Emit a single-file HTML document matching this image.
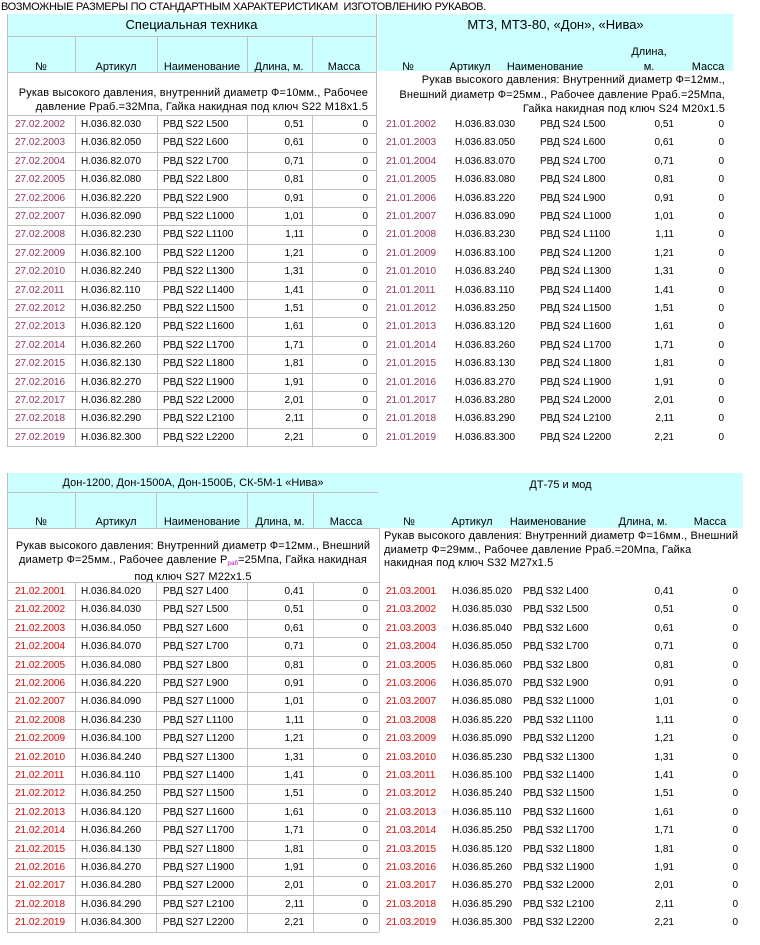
<!DOCTYPE html>
<html><head><meta charset="utf-8">
<style>
body{margin:0;width:760px;height:945px;background:#fff;position:relative;overflow:hidden;font-family:"Liberation Sans","DejaVu Sans",sans-serif;color:#000}
.a{position:absolute;white-space:nowrap;font-size:10px;line-height:12px}
.band{position:absolute;background:#ccffff}
.ln{position:absolute;background:#c0c0c0}
.c{text-align:center}.r{text-align:right}
</style></head><body>
<div class="a" style="left:1px;top:1px;font-size:11px;letter-spacing:-0.3px">ВОЗМОЖНЫЕ РАЗМЕРЫ ПО СТАНДАРТНЫМ ХАРАКТЕРИСТИКАМ&nbsp; ИЗГОТОВЛЕНИЮ РУКАВОВ.</div>
<div id="root"></div>
<script>
const suffixTL=["030","050","070","080","220","090","230","100","240","110","250","120","260","130","270","280","290","300"];
const suffixBL=["020","030","050","070","080","220","090","230","100","240","110","250","120","260","130","270","280","290","300"];
const suffixBR=["020","030","040","050","060","070","080","220","090","230","100","240","110","250","120","260","270","290","300"];
const lengthsTop=["0,51","0,61","0,71","0,81","0,91","1,01","1,11","1,21","1,31","1,41","1,51","1,61","1,71","1,81","1,91","2,01","2,11","2,21"];
const lengthsBot=["0,41"].concat(lengthsTop);
const namesTop=[500,600,700,800,900,1000,1100,1200,1300,1400,1500,1600,1700,1800,1900,2000,2100,2200];
const namesBot=[400].concat(namesTop);
const root=document.getElementById('root');
function el(cls,style,text,name){const d=document.createElement('div');d.className=cls;d.style.cssText=style;if(text!=null)d.innerHTML=text;


root.appendChild(d);return d;}
function table(o){
  const x0=o.x0,x1=o.x1,y=o.y;
  el('band',`left:${x0}px;top:${y}px;width:${o.bandW}px;height:${o.bandH}px`,null,o.key+'-header-band');
  el('a c',`left:${x0}px;top:${y+o.titleDy}px;width:${o.bandW}px;font-size:${o.titleFs}px;line-height:14px`,o.title,o.key+'-title');
  const hdr=["№","Артикул","Наименование",o.lenHdr,"Масса"];
  hdr.forEach((h,i)=>el('a c',`left:${o.hx[i]-40}px;top:${y+o.hdrDy}px;width:80px;font-size:11px`,h,o.key+'-col-header-'+i));
  el('a '+o.descAlign,`left:${o.descX}px;top:${o.descY}px;width:${o.descW}px;font-size:11px;line-height:${o.descLh}px;letter-spacing:0.15px`,o.desc,o.key+'-description');
  const rows=o.suffix.length, rh=18.4, r0=o.rowY;
  for(let i=0;i<rows;i++){
    const ty=r0+i*rh+4;
    el('a',`left:${o.cx[0]}px;top:${ty}px;color:${o.dateColor}`,o.prefix+String(o.startYear+i).padStart(4,'0'),o.key+'-row-date');
    el('a',`left:${o.cx[1]}px;top:${ty}px`,o.art+o.suffix[i],o.key+'-row-article');
    el('a',`left:${o.cx[2]}px;top:${ty}px`,'РВД '+o.s+' L'+o.names[i],o.key+'-row-name');
    el('a r',`left:${o.cx[3]-60}px;top:${ty}px;width:60px`,o.lens[i],o.key+'-row-length');
    el('a r',`left:${o.cx[4]-60}px;top:${ty}px;width:60px`,'0',o.key+'-row-mass');
  }
  if(o.grid){
    const yb=r0+rows*rh;
    el('ln',`left:${x0}px;top:${y}px;width:1px;height:${yb-y}px`,null,o.key+'-border');
    el('ln',`left:${x1}px;top:${y}px;width:1px;height:${yb-y}px`,null,o.key+'-border');
    el('ln',`left:${x0}px;top:${y+o.titleH}px;width:${x1-x0}px;height:1px`,null,o.key+'-border');
    el('ln',`left:${x0}px;top:${y+o.bandH}px;width:${x1-x0}px;height:1px`,null,o.key+'-border');
    for(let i=0;i<=rows;i++)el('ln',`left:${x0}px;top:${Math.round(r0+i*rh)}px;width:${x1-x0}px;height:1px`,null,o.key+'-row-line');
    o.vx.forEach(vx=>{
      el('ln',`left:${vx}px;top:${y+o.titleH}px;width:1px;height:${o.bandH-o.titleH}px`,null,o.key+'-col-line');
      el('ln',`left:${vx}px;top:${r0}px;width:1px;height:${yb-r0}px`,null,o.key+'-col-line');
    });
  }
}
table({key:'spec',x0:7,x1:376,y:14,bandW:369,bandH:58,titleH:22,titleDy:4,titleFs:13,hdrDy:47,
 title:'Специальная техника',lenHdr:'Длина, м.',hx:[41,116,202,279,344],
 desc:'Рукав высокого давления, внутренний диаметр Ф=10мм., Рабочее<br>давление Рраб.=32Мпа, Гайка накидная под ключ S22 М18х1.5',
 descAlign:'r',descX:8,descY:86,descW:360,descLh:14,rowY:115,cx:[15,81,163,304,368],
 prefix:'27.02.',startYear:2002,dateColor:'#993366',art:'H.036.82.',suffix:suffixTL,s:'S22',names:namesTop,lens:lengthsTop,
 grid:true,vx:[75,157,247,312]});
table({key:'mtz',x0:378,x1:733,y:14,bandW:355,bandH:57,titleH:22,titleDy:4,titleFs:13,hdrDy:47,
 title:'МТЗ, МТЗ-80, «Дон», «Нива»',lenHdr:'м.',hx:[408,470,545,649,708],
 desc:'Рукав высокого давления: Внутренний диаметр Ф=12мм.,<br>Внешний диаметр Ф=25мм., Рабочее давление Рраб.=25Мпа,<br>Гайка накидная под ключ S24 М20х1.5',
 descAlign:'r',descX:380,descY:73,descW:345,descLh:14.5,rowY:115,cx:[386,455,540,674,724],
 prefix:'21.01.',startYear:2002,dateColor:'#993366',art:'H.036.83.',suffix:suffixTL,s:'S24',names:namesTop,lens:lengthsTop,grid:false});
el('a c','left:609px;top:46px;width:80px;font-size:11px','Длина,','mtz-col-header-length-top');
table({key:'don',x0:7,x1:379,y:473,bandW:372,bandH:55,titleH:19,titleDy:3,titleFs:11,hdrDy:43,
 title:'Дон-1200, Дон-1500А, Дон-1500Б, СК-5М-1 «Нива»',lenHdr:'Длина, м.',hx:[41,116,202,280,346],
 desc:'Рукав высокого давления: Внутренний диаметр Ф=12мм., Внешний<br>диаметр Ф=25мм., Рабочее давление Р<span style="color:#c000c0;font-size:6px;vertical-align:-2px">раб</span>=25Мпа, Гайка накидная<br>под ключ S27 М22х1.5',
 descAlign:'c',descX:8,descY:540,descW:370,descLh:13.5,rowY:582,cx:[15,81,163,304,368],
 prefix:'21.02.',startYear:2001,dateColor:'#ff0000',art:'H.036.84.',suffix:suffixBL,s:'S27',names:namesBot,lens:lengthsBot,
 grid:true,vx:[75,156,247,313]});
table({key:'dt75',x0:378,x1:743,y:473,bandW:365,bandH:55,titleH:19,titleDy:5,titleFs:11,hdrDy:43,
 title:'ДТ-75 и мод',lenHdr:'Длина, м.',hx:[409,472,548,643,710],
 desc:'Рукав высокого давления: Внутренний диаметр Ф=16мм., Внешний<br>диаметр Ф=29мм., Рабочее давление Рраб.=20Мпа, Гайка<br>накидная под ключ S32 М27х1.5',
 descAlign:'',descX:384,descY:530,descW:355,descLh:13.5,rowY:582,cx:[386,452,523,674,738],
 prefix:'21.03.',startYear:2001,dateColor:'#ff0000',art:'H.036.85.',suffix:suffixBR,s:'S32',names:namesBot,lens:lengthsBot,grid:false});
</script>
</body></html>
